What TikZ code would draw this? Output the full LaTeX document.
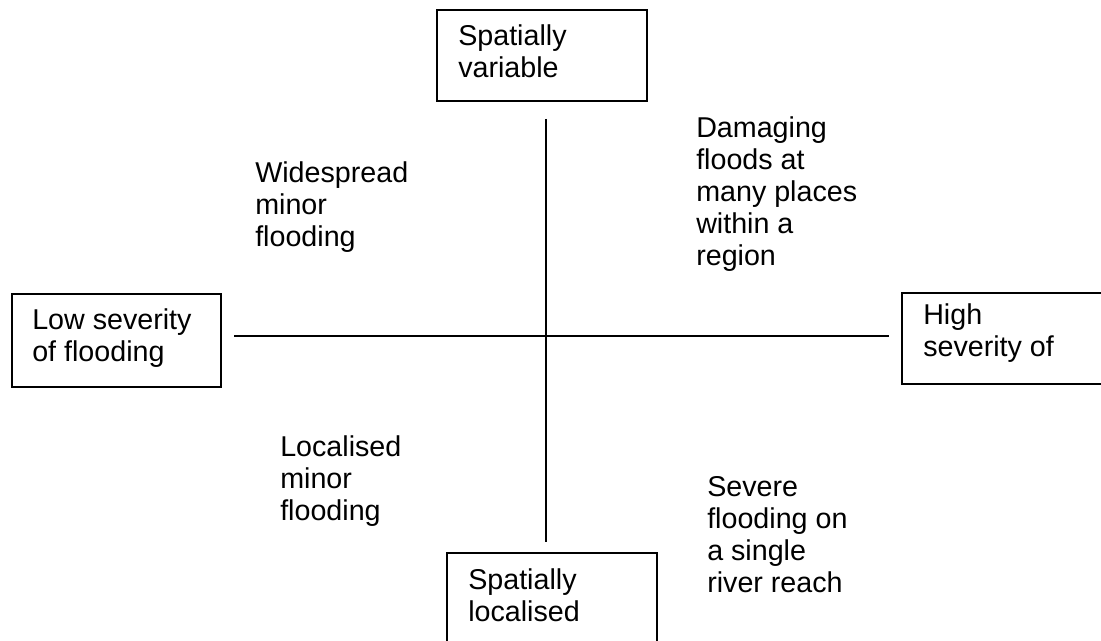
\documentclass[tikz,border=0pt]{standalone}
\usepackage{fontspec}
\setmainfont{Liberation Sans}
\begin{document}
\begin{tikzpicture}[x=0.75pt,y=-0.75pt,
  box/.style={draw,line width=1.2pt,rectangle,inner sep=0pt,outer sep=0pt,anchor=north west},
  lbl/.style={anchor=base west,inner sep=0pt,align=left,font=\fontsize{21.5}{24}\selectfont},
  axis/.style={line width=1.2pt}]
\clip (0,0) rectangle (1101,641);
% boxes (sizes in px * 0.75pt)
\node[box,minimum width=157.5pt,minimum height=68.25pt] (top) at (437,10) {};
\node[box,minimum width=156.75pt,minimum height=69.75pt] (left) at (12,294) {};
\node[box,minimum width=172.5pt,minimum height=68.25pt] (right) at (902,293) {};
\node[box,minimum width=157.5pt,minimum height=90pt] (bottom) at (447,553) {};
% box texts (anchored at baseline of last line)
\node[lbl] (ttop) at (458,78) {Spatially\\variable};
\node[lbl] (tleft) at (32,362) {Low severity\\of flooding};
\node[lbl] (tright) at (923,357) {High\\severity of};
\node[lbl] (tbottom) at (468,622) {Spatially\\localised};
% axes
\coordinate (vtop) at (546,119);
\coordinate (vbot) at (546,542);
\coordinate (hleft) at (234,336);
\coordinate (hright) at (889,336);
\draw[axis] (vtop) -- (vbot);
\draw[axis] (hleft) -- (hright);
% quadrant texts
\node[lbl] (q1) at (696,266) {Damaging\\floods at\\many places\\within a\\region};
\node[lbl] (q2) at (255,247) {Widespread\\minor\\flooding};
\node[lbl] (q3) at (280,521) {Localised\\minor\\flooding};
\node[lbl] (q4) at (707,593) {Severe\\flooding on\\a single\\river reach};
\end{tikzpicture}
\end{document}
